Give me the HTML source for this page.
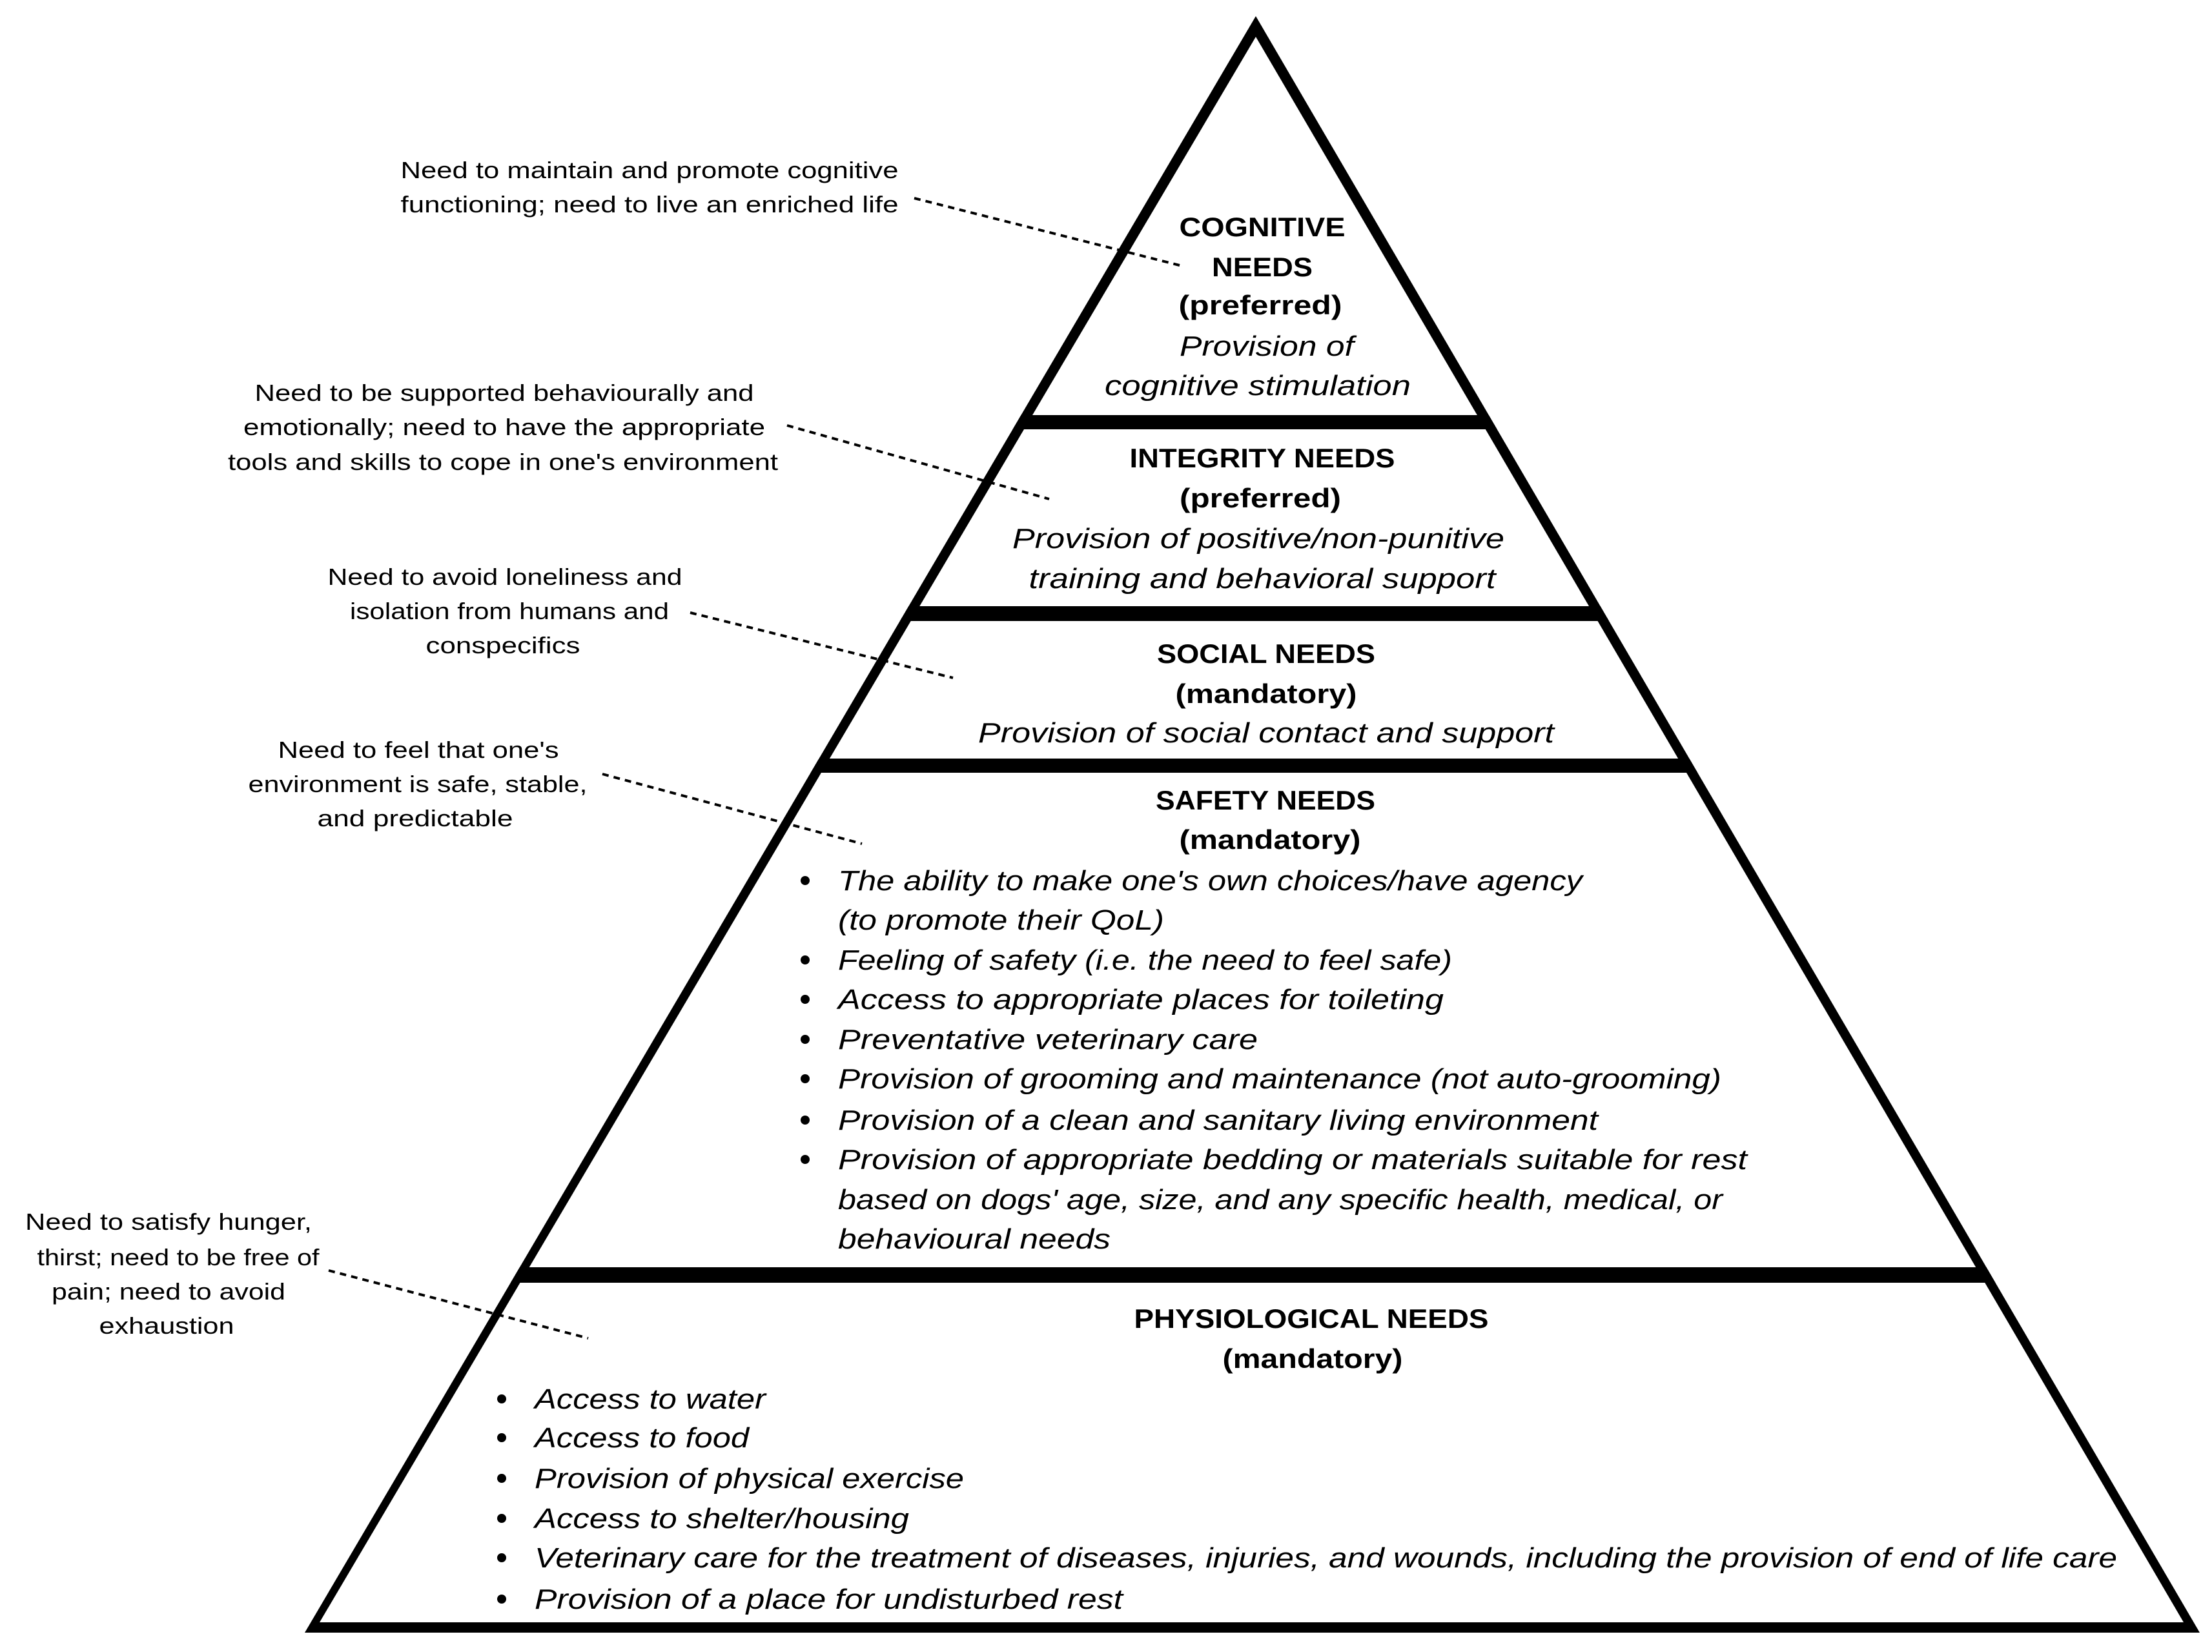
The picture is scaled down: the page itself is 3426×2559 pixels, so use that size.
<!DOCTYPE html>
<html><head><meta charset="utf-8"><style>
html,body{margin:0;padding:0;background:#fff;}
svg{display:block;}
text{font-family:"Liberation Sans",sans-serif;fill:#000;}
.h{font-weight:bold;font-size:42px;text-anchor:middle;}
.i{font-style:italic;font-size:44px;}
.ic{font-style:italic;font-size:44px;text-anchor:middle;}
.a{font-size:36px;text-anchor:middle;}
</style></head><body>
<svg width="3426" height="2559" viewBox="0 0 3426 2559" xmlns="http://www.w3.org/2000/svg">
<defs><clipPath id="tri"><polygon points="1945,25 472,2529 3407,2529"/></clipPath></defs>
<polygon points="1945,25 472,2529 3407,2529" fill="#000"/>
<polygon points="1945,57 495,2513 3382,2513" fill="#fff"/>
<g clip-path="url(#tri)" fill="#000">
<rect x="0" y="643" width="3426" height="22"/>
<rect x="0" y="939" width="3426" height="23"/>
<rect x="0" y="1175" width="3426" height="22"/>
<rect x="0" y="1963" width="3426" height="24"/>
</g>
<g stroke="#000" stroke-width="4" stroke-dasharray="10 8" fill="none">
<line x1="1416" y1="307" x2="1827" y2="411"/>
<line x1="1219" y1="659" x2="1625" y2="773"/>
<line x1="1069" y1="949" x2="1476" y2="1050"/>
<line x1="933" y1="1199" x2="1335" y2="1307"/>
<line x1="509" y1="1968" x2="911" y2="2073"/>
</g>
<!-- annotations -->
<text class="a" x="1006" y="276" textLength="771" lengthAdjust="spacingAndGlyphs">Need to maintain and promote cognitive</text>
<text class="a" x="1006" y="329" textLength="771" lengthAdjust="spacingAndGlyphs">functioning; need to live an enriched life</text>
<text class="a" x="781" y="621" textLength="773" lengthAdjust="spacingAndGlyphs">Need to be supported behaviourally and</text>
<text class="a" x="781" y="674" textLength="808" lengthAdjust="spacingAndGlyphs">emotionally; need to have the appropriate</text>
<text class="a" x="779" y="728" textLength="852" lengthAdjust="spacingAndGlyphs">tools and skills to cope in one's environment</text>
<text class="a" x="782" y="906" textLength="549" lengthAdjust="spacingAndGlyphs">Need to avoid loneliness and</text>
<text class="a" x="789" y="959" textLength="494" lengthAdjust="spacingAndGlyphs">isolation from humans and</text>
<text class="a" x="779" y="1012" textLength="239" lengthAdjust="spacingAndGlyphs">conspecifics</text>
<text class="a" x="648" y="1174" textLength="435" lengthAdjust="spacingAndGlyphs">Need to feel that one's</text>
<text class="a" x="647" y="1227" textLength="525" lengthAdjust="spacingAndGlyphs">environment is safe, stable,</text>
<text class="a" x="643" y="1280" textLength="303" lengthAdjust="spacingAndGlyphs">and predictable</text>
<text class="a" x="261" y="1905" textLength="444" lengthAdjust="spacingAndGlyphs">Need to satisfy hunger,</text>
<text class="a" x="276" y="1960" textLength="437" lengthAdjust="spacingAndGlyphs">thirst; need to be free of</text>
<text class="a" x="261" y="2013" textLength="362" lengthAdjust="spacingAndGlyphs">pain; need to avoid</text>
<text class="a" x="258" y="2066" textLength="209" lengthAdjust="spacingAndGlyphs">exhaustion</text>
<!-- cognitive -->
<text class="h" x="1955" y="366" textLength="257" lengthAdjust="spacingAndGlyphs">COGNITIVE</text>
<text class="h" x="1955" y="428" textLength="156" lengthAdjust="spacingAndGlyphs">NEEDS</text>
<text class="h" x="1952" y="487" textLength="253" lengthAdjust="spacingAndGlyphs">(preferred)</text>
<text class="ic" x="1962" y="551" textLength="270" lengthAdjust="spacingAndGlyphs">Provision of</text>
<text class="ic" x="1948" y="612" textLength="474" lengthAdjust="spacingAndGlyphs">cognitive stimulation</text>
<!-- integrity -->
<text class="h" x="1955" y="724" textLength="411" lengthAdjust="spacingAndGlyphs">INTEGRITY NEEDS</text>
<text class="h" x="1952" y="786" textLength="250" lengthAdjust="spacingAndGlyphs">(preferred)</text>
<text class="ic" x="1949" y="849" textLength="762" lengthAdjust="spacingAndGlyphs">Provision of positive/non-punitive</text>
<text class="ic" x="1955" y="911" textLength="723" lengthAdjust="spacingAndGlyphs">training and behavioral support</text>
<!-- social -->
<text class="h" x="1961" y="1027" textLength="338" lengthAdjust="spacingAndGlyphs">SOCIAL NEEDS</text>
<text class="h" x="1961" y="1089" textLength="281" lengthAdjust="spacingAndGlyphs">(mandatory)</text>
<text class="ic" x="1961" y="1150" textLength="892" lengthAdjust="spacingAndGlyphs">Provision of social contact and support</text>
<!-- safety -->
<text class="h" x="1960" y="1254" textLength="340" lengthAdjust="spacingAndGlyphs">SAFETY NEEDS</text>
<text class="h" x="1967" y="1315" textLength="281" lengthAdjust="spacingAndGlyphs">(mandatory)</text>
<g fill="#000">
<circle cx="1247" cy="1364" r="7"/><circle cx="1247" cy="1487" r="7"/><circle cx="1247" cy="1548" r="7"/>
<circle cx="1247" cy="1610" r="7"/><circle cx="1247" cy="1671" r="7"/><circle cx="1247" cy="1735" r="7"/>
<circle cx="1247" cy="1796" r="7"/>
<circle cx="777" cy="2167" r="7"/><circle cx="777" cy="2227" r="7"/><circle cx="777" cy="2290" r="7"/>
<circle cx="777" cy="2352" r="7"/><circle cx="777" cy="2413" r="7"/><circle cx="777" cy="2477" r="7"/>
</g>
<text class="i" x="1298" y="1379" textLength="1153" lengthAdjust="spacingAndGlyphs">The ability to make one's own choices/have agency</text>
<text class="i" x="1298" y="1440" textLength="505" lengthAdjust="spacingAndGlyphs">(to promote their QoL)</text>
<text class="i" x="1298" y="1502" textLength="951" lengthAdjust="spacingAndGlyphs">Feeling of safety (i.e. the need to feel safe)</text>
<text class="i" x="1298" y="1563" textLength="938" lengthAdjust="spacingAndGlyphs">Access to appropriate places for toileting</text>
<text class="i" x="1298" y="1625" textLength="650" lengthAdjust="spacingAndGlyphs">Preventative veterinary care</text>
<text class="i" x="1298" y="1686" textLength="1368" lengthAdjust="spacingAndGlyphs">Provision of grooming and maintenance (not auto-grooming)</text>
<text class="i" x="1298" y="1750" textLength="1177" lengthAdjust="spacingAndGlyphs">Provision of a clean and sanitary living environment</text>
<text class="i" x="1298" y="1811" textLength="1408" lengthAdjust="spacingAndGlyphs">Provision of appropriate bedding or materials suitable for rest</text>
<text class="i" x="1298" y="1873" textLength="1370" lengthAdjust="spacingAndGlyphs">based on dogs' age, size, and any specific health, medical, or</text>
<text class="i" x="1298" y="1934" textLength="422" lengthAdjust="spacingAndGlyphs">behavioural needs</text>
<!-- physiological -->
<text class="h" x="2031" y="2057" textLength="549" lengthAdjust="spacingAndGlyphs">PHYSIOLOGICAL NEEDS</text>
<text class="h" x="2033" y="2119" textLength="279" lengthAdjust="spacingAndGlyphs">(mandatory)</text>
<text class="i" x="828" y="2182" textLength="358" lengthAdjust="spacingAndGlyphs">Access to water</text>
<text class="i" x="828" y="2242" textLength="332" lengthAdjust="spacingAndGlyphs">Access to food</text>
<text class="i" x="828" y="2305" textLength="665" lengthAdjust="spacingAndGlyphs">Provision of physical exercise</text>
<text class="i" x="828" y="2367" textLength="580" lengthAdjust="spacingAndGlyphs">Access to shelter/housing</text>
<text class="i" x="828" y="2428" textLength="2451" lengthAdjust="spacingAndGlyphs">Veterinary care for the treatment of diseases, injuries, and wounds, including the provision of end of life care</text>
<text class="i" x="828" y="2492" textLength="911" lengthAdjust="spacingAndGlyphs">Provision of a place for undisturbed rest</text>
</svg>
</body></html>
